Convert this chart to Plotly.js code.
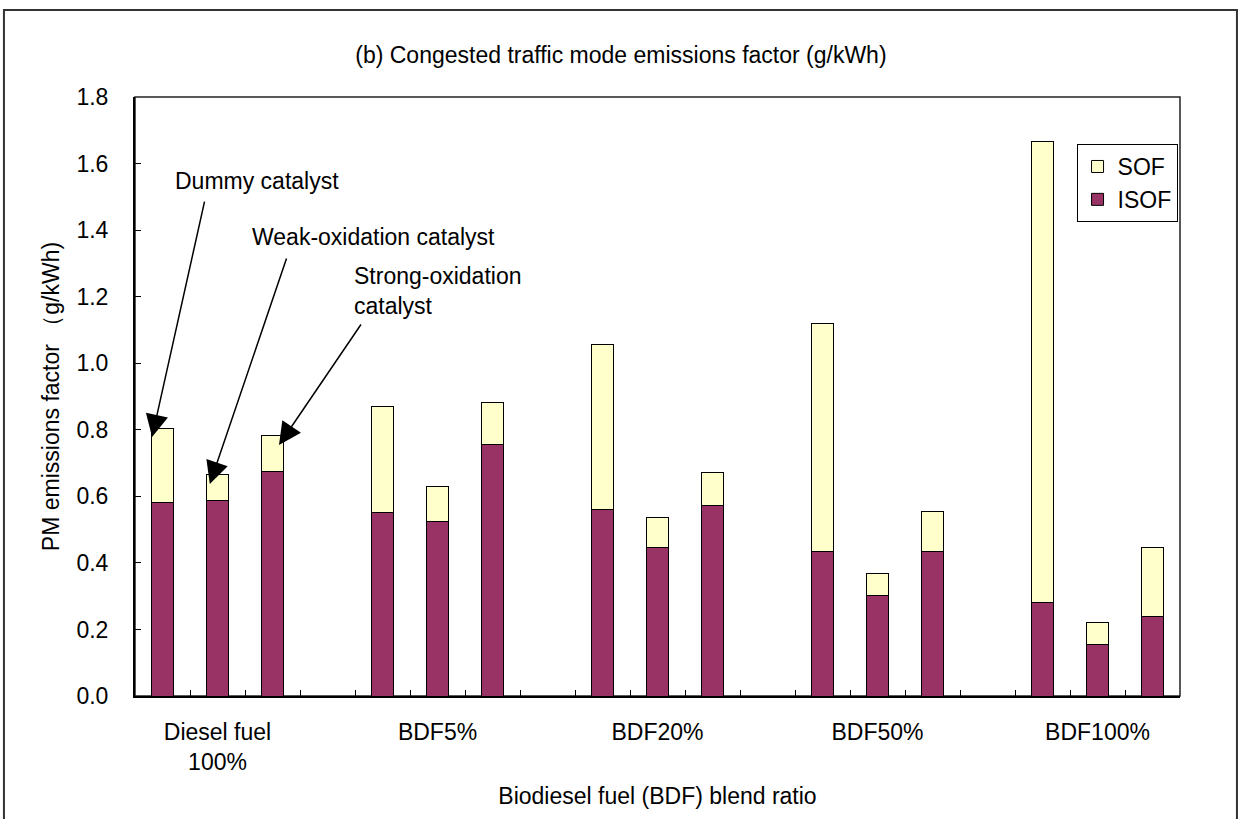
<!DOCTYPE html>
<html>
<head>
<meta charset="utf-8">
<script src="https://cdn.plot.ly/plotly-3.0.1.min.js"></script>
<style>
html,body{margin:0;padding:0;background:#fff;}
#chart{width:1240px;height:819px;}
</style>
</head>
<body>
<div id="chart"></div>
<script>
// positions 0..18 on a linear axis; groups of 3 bars with one empty slot between groups
var groupLabels = ["Diesel fuel<br>100%", "BDF5%", "BDF20%", "BDF50%", "BDF100%"];
var catalysts = ["Dummy catalyst", "Weak-oxidation catalyst", "Strong-oxidation catalyst"];
var isof = [
  0.582, 0.586, 0.676,
  0.552, 0.524, 0.757,
  0.560, 0.445, 0.571,
  0.435, 0.301, 0.435,
  0.282, 0.156, 0.238
];
var totals = [
  0.805, 0.667, 0.784,
  0.869, 0.631, 0.883,
  1.056, 0.537, 0.673,
  1.118, 0.368, 0.554,
  1.665, 0.221, 0.445
];
var sof = totals.map(function(t, i){ return +(t - isof[i]).toFixed(3); });

var xpos = [];
var hover = [];
for (var g = 0; g < groupLabels.length; g++) {
  for (var c = 0; c < catalysts.length; c++) {
    xpos.push(g * 4 + c);
    hover.push(groupLabels[g].replace("<br>", " ") + " / " + catalysts[c]);
  }
}
var groupCenters = groupLabels.map(function(_, g){ return g * 4 + 1; });
var minorTicks = [];
for (var k = 0; k < 18; k++) minorTicks.push(k + 0.5);

var FONT = "Liberation Sans, Arial, sans-serif";
var FS = 23;

var traces = [
  {type: "bar", name: "ISOF", x: xpos, y: isof, hovertext: hover, hoverinfo: "text+y", textposition: "none",
   width: 0.4, marker: {color: "#993366", line: {color: "#000", width: 1}}},
  {type: "bar", name: "SOF", x: xpos, y: sof, hovertext: hover, hoverinfo: "text+y", textposition: "none",
   width: 0.4, marker: {color: "#FFFFCC", line: {color: "#000", width: 1}}}
];

var layout = {
  width: 1240, height: 819,
  margin: {l: 135, r: 60, t: 97, b: 123},
  paper_bgcolor: "#fff", plot_bgcolor: "#fff",
  barmode: "stack",
  font: {family: FONT, size: FS, color: "#000"},
  title: {text: "(b) Congested traffic mode emissions factor (g/kWh)",
          font: {family: FONT, size: FS, color: "#000"},
          x: 0.465, xref: "paper", xanchor: "center", y: 0.933, yanchor: "middle"},
  xaxis: {
    range: [-0.5, 18.5], showgrid: false, zeroline: false,
    showline: true, linecolor: "#000", linewidth: 2,
    tickmode: "array", tickvals: groupCenters, ticktext: groupLabels,
    ticks: "", ticklabelstandoff: 14,
    tickfont: {family: FONT, size: FS, color: "#000"},
    minor: {tickmode: "array", tickvals: minorTicks, ticks: "inside", ticklen: 6, tickcolor: "#000", tickwidth: 1, showgrid: false},
    title: {text: "Biodiesel fuel (BDF) blend ratio", font: {family: FONT, size: FS, color: "#000"}, standoff: 14}
  },
  yaxis: {
    range: [0, 1.8], dtick: 0.2, tickformat: ".1f", showgrid: false, zeroline: false,
    showline: true, linecolor: "#000", linewidth: 2,
    ticks: "inside", ticklen: 6, tickcolor: "#000", ticklabelstandoff: 20,
    tickfont: {family: FONT, size: FS, color: "#000"},
    title: {text: "PM emissions factor （g/kWh)", font: {family: FONT, size: FS, color: "#000"}, standoff: 10}
  },
  legend: {x: 0.901, y: 0.9215, xanchor: "left", yanchor: "top",
           bgcolor: "#fff", bordercolor: "#000", borderwidth: 1,
           font: {family: FONT, size: FS, color: "#000"}, traceorder: "reversed"},
  shapes: [
    {type: "rect", xref: "paper", yref: "paper", x0: 0, x1: 1, y0: 0, y1: 1,
     line: {color: "#222", width: 1.5}, fillcolor: "rgba(0,0,0,0)", layer: "below"},
    {type: "rect", xref: "paper", yref: "paper", x0: -0.1254, x1: 1.0545, y0: -0.25, y1: 1.1452,
     line: {color: "#333", width: 2}, fillcolor: "rgba(0,0,0,0)"}
  ],
  annotations: [
    {xref: "x", yref: "y", x: 0.19, y: 1.547, text: catalysts[0], showarrow: false,
     xanchor: "left", yanchor: "middle", font: {family: FONT, size: FS, color: "#000"}},
    {xref: "x", yref: "y", x: 1.59, y: 1.379, text: catalysts[1], showarrow: false,
     xanchor: "left", yanchor: "middle", font: {family: FONT, size: FS, color: "#000"}},
    {xref: "x", yref: "y", x: 3.45, y: 1.217, text: "Strong-oxidation<br>catalyst", showarrow: false,
     xanchor: "left", yanchor: "middle", align: "left", font: {family: FONT, size: FS, color: "#000"}},
    {xref: "x", yref: "y", axref: "x", ayref: "y", x: -0.19, y: 0.778, ax: 0.77, ay: 1.49,
     text: "", showarrow: true, arrowhead: 2, arrowsize: 3, arrowwidth: 1.5, arrowcolor: "#000"},
    {xref: "x", yref: "y", axref: "x", ayref: "y", x: 0.86, y: 0.637, ax: 2.264, ay: 1.319,
     text: "", showarrow: true, arrowhead: 2, arrowsize: 3, arrowwidth: 1.5, arrowcolor: "#000"},
    {xref: "x", yref: "y", axref: "x", ayref: "y", x: 2.118, y: 0.754, ax: 3.627, ay: 1.121,
     text: "", showarrow: true, arrowhead: 2, arrowsize: 3, arrowwidth: 1.5, arrowcolor: "#000"}
  ],
  showlegend: true
};

Plotly.newPlot("chart", traces, layout, {displayModeBar: false, staticPlot: true});
</script>
</body>
</html>
